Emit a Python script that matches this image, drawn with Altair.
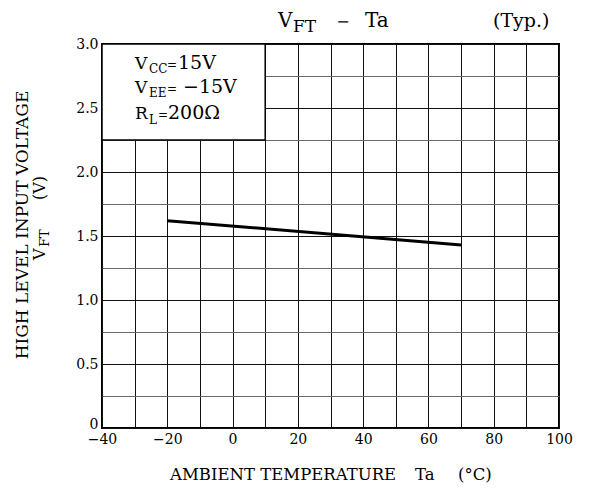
import altair as alt
import pandas as pd

# ---- data ----
temp_c = [-20, 70]
vft_v = [1.62, 1.43]
x_grid = list(range(-40, 101, 10))
y_grid = [i * 0.25 for i in range(0, 13)]
box_x = [-40, 10]
box_y = [2.25, 3.0]

FONT = "DejaVu Serif"

line_df = pd.DataFrame({"Ta": temp_c, "VFT": vft_v})
box_df = pd.DataFrame({"x": [box_x[0]], "x2": [box_x[1]], "y": [box_y[0]], "y2": [box_y[1]]})

xscale = alt.Scale(domain=[-40, 100], nice=False, zero=False)
yscale = alt.Scale(domain=[0, 3.0], nice=False, zero=False)

x_axis = alt.Axis(
    values=x_grid,
    labelExpr="datum.value % 20 == 0 ? format(datum.value, 'd') : ''",
    grid=True, gridColor="#111", gridWidth=1, gridOpacity=1,
    domain=False, ticks=False, title=None,
    labelFont=FONT, labelFontSize=14, labelColor="black", labelPadding=4,
    labelFlush=False, labelOverlap=False,
)
y_axis = alt.Axis(
    values=y_grid,
    labelExpr="datum.value == 0 ? '0' : (round(datum.value*100) % 50 == 0 ? format(datum.value, '.1f') : '')",
    grid=True,
    gridColor={"condition": {"test": "round(datum.value*100) % 50 == 0", "value": "#111"}, "value": "#6a6a6a"},
    gridWidth=1, gridOpacity=1,
    domain=False, ticks=False, title=None,
    labelFont=FONT, labelFontSize=14, labelColor="black", labelPadding=4,
    labelBaseline={"condition": {"test": "datum.value == 0", "value": "alphabetic"}, "value": "middle"},
    labelFlush=False, labelOverlap=False,
)

line = alt.Chart(line_df).mark_line(color="black", strokeWidth=3, clip=True).encode(
    x=alt.X("Ta:Q", scale=xscale, axis=x_axis),
    y=alt.Y("VFT:Q", scale=yscale, axis=y_axis),
)

box = alt.Chart(box_df).mark_rect(fill="white", stroke="black", strokeWidth=1.5).encode(
    x=alt.X("x:Q", scale=xscale, axis=x_axis),
    x2="x2:Q",
    y=alt.Y("y:Q", scale=yscale, axis=y_axis),
    y2="y2:Q",
)


def label(text, x, y, size, align="left", angle=None, baseline="alphabetic"):
    kw = dict(text=text, font=FONT, fontSize=size, align=align, baseline=baseline, color="black")
    if angle is not None:
        kw["angle"] = angle
    return alt.Chart(alt.Data(values=[{"k": 1}])).mark_text(**kw).encode(
        x=alt.value(x), y=alt.value(y)
    )


texts = [
    # title
    label("V", 176, -17, 20),
    label("FT", 191, -12, 17),
    label("\u2212", 241, -17, 16, align="center"),
    label("Ta", 263, -17, 20),
    label("(Typ.)", 391, -17, 19),
    # conditions box
    label("V", 33, 25, 17),
    label("CC", 47, 29, 12),
    label("=", 65, 25, 12),
    label("15V", 76, 25, 19),
    label("V", 33, 49, 17),
    label("EE", 47, 53, 12),
    label("=", 65, 49, 12),
    label("\u221215V", 81, 49, 19),
    label("R", 33, 75, 17),
    label("L", 47, 80, 12),
    label("=", 56, 75, 12),
    label("200\u03a9", 66, 75, 19),
    # x axis title
    label("AMBIENT TEMPERATURE", 68, 436, 16.5),
    label("Ta", 313, 436, 16.5),
    label("(\u00b0C)", 356, 436, 16.5),
    # y axis title
    label("HIGH LEVEL INPUT VOLTAGE", -74, 181, 17, align="center", angle=270),
    label("V", -57, 216, 16, angle=270),
    label("FT", -53, 203, 13, angle=270),
    label("(V)", -57, 156, 16, angle=270),
]

chart = alt.layer(line, box, *texts).properties(
    width=457,
    height=384,
    autosize=alt.AutoSizeParams(type="none"),
    padding={"left": 94, "top": 36, "right": 22, "bottom": 56},
    background="white",
).configure_view(stroke="black", strokeWidth=2)

chart.save("out.html", embed_options={"renderer": "svg", "actions": False})
